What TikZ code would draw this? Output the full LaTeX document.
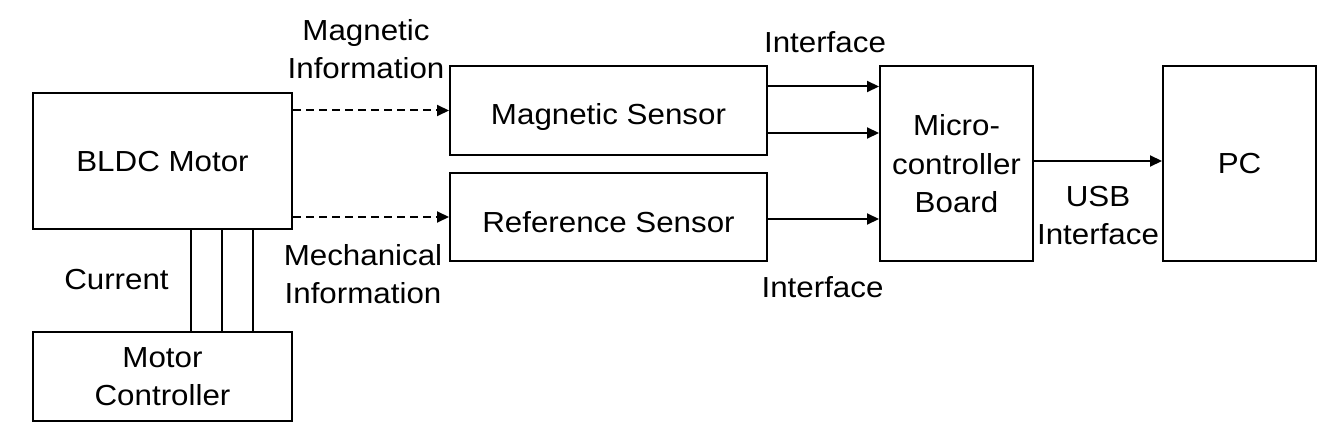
\documentclass[tikz,border=0pt]{standalone}
\usepackage{fontspec}
\setmainfont{Liberation Sans}[FakeStretch=1.08]
\usetikzlibrary{arrows.meta}
\begin{document}
\begin{tikzpicture}[x=0.5pt,y=-0.5pt,
  txt/.style={font=\fontsize{14.5}{19.25}\selectfont, align=center, inner sep=0pt, text depth=0pt},
  box/.style={txt, draw, line width=1pt},
  lbl/.style={txt},
  arr/.style={line width=1pt, -{Triangle[length=6pt,width=5.5pt]}},
  darr/.style={arr, dash pattern=on 4pt off 2.5pt},
  wire/.style={line width=1pt}]
\useasboundingbox (0,0) rectangle (1326,433);
% boxes
\node[box, minimum width=129.5pt, minimum height=68pt] (bldc) at (162.5,161) {BLDC Motor};
\node[box, minimum width=129.5pt, minimum height=44.5pt] (mc) at (162.5,376.5) {Motor\\Controller};
\node[box, minimum width=158.5pt, minimum height=44.5pt, text height=14pt] (ms) at (608.5,110.5) {Magnetic Sensor};
\node[box, minimum width=158.5pt, minimum height=44pt, text height=15pt] (rs) at (608.5,217) {Reference Sensor};
\node[box, minimum width=76.5pt, minimum height=97.5pt] (mcu) at (956.5,163.5) {Micro-\\controller\\Board};
\node[box, minimum width=76.5pt, minimum height=97.5pt] (pc) at (1239.5,163.5) {PC};
% labels
\node[lbl] (lmag) at (366,49) {Magnetic\\Information};
\node[lbl] (lmech) at (363,274) {Mechanical\\Information};
\node[lbl] (lcur) at (116.5,279) {Current};
\node[lbl] (lif1) at (825,42.5) {Interface};
\node[lbl] (lif2) at (822.5,287) {Interface};
\node[lbl] (lusb) at (1098,215.5) {USB\\Interface};
% connectors
\draw[darr] (bldc.east |- ms.west) -- (ms.west);
\draw[darr] (bldc.east |- rs.west) -- (rs.west);
\draw[arr] ([yshift=12pt]ms.east) -- ([yshift=12pt]ms.east -| mcu.west);
\draw[arr] ([yshift=-11.25pt]ms.east) -- ([yshift=-11.25pt]ms.east -| mcu.west);
\draw[arr] ([yshift=-1pt]rs.east) -- ([yshift=-1pt]rs.east -| mcu.west);
\draw[arr] ([yshift=1.25pt]mcu.east) -- ([yshift=1.25pt]mcu.east -| pc.west);
\foreach \dx in {14.25pt,29.75pt,45.25pt}
  \draw[wire] ([xshift=\dx]bldc.south) -- ([xshift=\dx]bldc.south |- mc.north);
\end{tikzpicture}
\end{document}
